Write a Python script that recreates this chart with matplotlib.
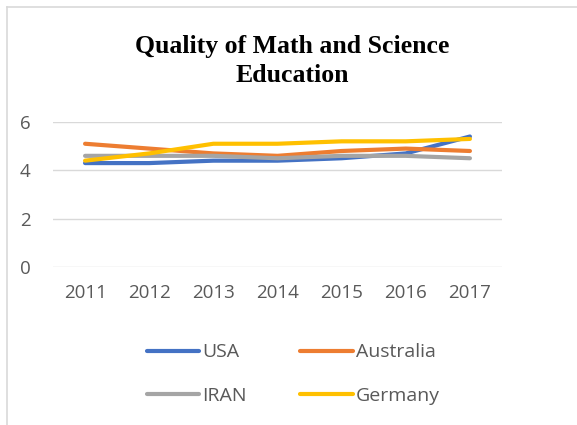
import matplotlib.pyplot as plt
import matplotlib.lines as mlines

years = ["2011", "2012", "2013", "2014", "2015", "2016", "2017"]
usa = [4.3, 4.3, 4.4, 4.4, 4.5, 4.7, 5.4]
australia = [5.1, 4.9, 4.7, 4.6, 4.8, 4.9, 4.8]
iran = [4.6, 4.6, 4.6, 4.5, 4.6, 4.6, 4.5]
germany = [4.4, 4.7, 5.1, 5.1, 5.2, 5.2, 5.3]

series = [("USA", usa, "#4472c4"), ("Australia", australia, "#ed7d31"),
          ("IRAN", iran, "#a5a5a5"), ("Germany", germany, "#ffc000")]

plt.rcParams["font.family"] = ["Open Sans", "DejaVu Sans"]

fig = plt.figure(figsize=(5.77, 4.25), dpi=100)
ax = fig.add_axes([53 / 577, 1 - 267 / 425, 449 / 577, 145 / 425])

x = list(range(len(years)))
for name, vals, col in series:
    ax.plot(x, vals, color=col, lw=3, label=name, solid_capstyle="round")

ax.set_xlim(-0.5, len(years) - 0.5)
ax.set_ylim(0, 6)
ax.set_yticks([0, 2, 4, 6])
ax.set_xticks(x)
ax.set_xticklabels(years)
ax.grid(axis="y", color="#d9d9d9", lw=1)
ax.set_axisbelow(True)
for s in ax.spines.values():
    s.set_visible(False)
ax.tick_params(length=0, labelsize=13.5, colors="#595959", pad=12)
ax.tick_params(axis="y", pad=16)

fig.text(0.507, 1 - 61 / 425, "Quality of Math and Science\nEducation",
         ha="center", va="center", fontsize=18.5, fontweight="bold",
         family="Liberation Serif", linespacing=1.3)

# legend, two rows (column-major fill, so reorder)
order = [0, 2, 1, 3]
handles = [mlines.Line2D([], [], color=series[i][2], lw=3, solid_capstyle="round") for i in order]
labels = [series[i][0] for i in order]
fig.legend(handles, labels, ncol=2, loc="center", bbox_to_anchor=(0.508, 1 - 374 / 425),
           frameon=False, fontsize=14, labelcolor="#595959", handlelength=2.7,
           handletextpad=0.15, columnspacing=2.75, labelspacing=1.3)

# chart border (left and top visible)
fig.add_artist(mlines.Line2D([7 / 577, 7 / 577], [0, 1 - 7 / 425], color="#d9d9d9", lw=1.2))
fig.add_artist(mlines.Line2D([7 / 577, 1], [1 - 7 / 425, 1 - 7 / 425], color="#d9d9d9", lw=1.2))

fig.savefig("out.png", dpi=100)
